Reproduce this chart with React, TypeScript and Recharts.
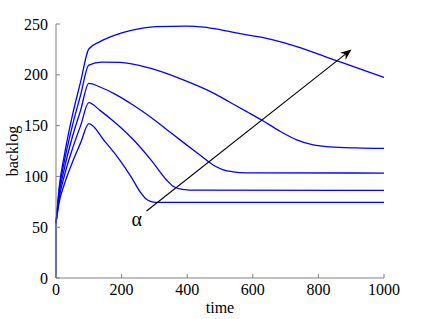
import React from 'react';
import { LineChart, Line, XAxis, YAxis, ReferenceLine, ReferenceDot } from 'recharts';

const edge = [{ t: 0, v: 0 }, { t: 0, v: 54 }];
const curve1 = [
  { t: 0, v: 54 }, { t: 10, v: 75 }, { t: 25, v: 92 }, { t: 50, v: 114 }, { t: 75, v: 133 },
  { t: 100, v: 152 }, { t: 150, v: 134 }, { t: 190, v: 118 }, { t: 230, v: 99 }, { t: 256, v: 85 },
  { t: 272, v: 78.5 }, { t: 288, v: 75.5 }, { t: 305, v: 74.5 }, { t: 1000, v: 74.5 },
];
const curve2 = [
  { t: 0, v: 54 }, { t: 10, v: 79 }, { t: 25, v: 100 }, { t: 50, v: 127 }, { t: 75, v: 150 },
  { t: 100, v: 172.6 }, { t: 134, v: 165 }, { t: 180, v: 153 }, { t: 236, v: 136 }, { t: 290, v: 116 },
  { t: 337, v: 96.5 }, { t: 358, v: 90 }, { t: 385, v: 87.3 }, { t: 430, v: 86.4 }, { t: 1000, v: 86.3 },
];
const curve3 = [
  { t: 0, v: 54 }, { t: 10, v: 83 }, { t: 25, v: 107 }, { t: 50, v: 139 }, { t: 75, v: 165 },
  { t: 100, v: 191.6 }, { t: 134, v: 188 }, { t: 180, v: 181 }, { t: 236, v: 170 }, { t: 290, v: 158 },
  { t: 338, v: 146 }, { t: 390, v: 133 }, { t: 439, v: 121 }, { t: 480, v: 111 }, { t: 510, v: 106.5 },
  { t: 540, v: 104.5 }, { t: 580, v: 103.5 }, { t: 1000, v: 103.3 },
];
const curve4 = [
  { t: 0, v: 54 }, { t: 10, v: 87 }, { t: 25, v: 114 }, { t: 50, v: 150 }, { t: 75, v: 180 },
  { t: 100, v: 209.6 }, { t: 140, v: 212.5 }, { t: 195, v: 212.3 }, { t: 287, v: 206.5 }, { t: 388, v: 195 },
  { t: 480, v: 182 }, { t: 530, v: 173 }, { t: 580, v: 164 }, { t: 627, v: 155.5 }, { t: 680, v: 145 },
  { t: 734, v: 136 }, { t: 784, v: 131 }, { t: 835, v: 129 }, { t: 917, v: 128 }, { t: 1000, v: 127.5 },
];
const curve5 = [
  { t: 0, v: 54 }, { t: 10, v: 90 }, { t: 25, v: 120 }, { t: 50, v: 160 }, { t: 75, v: 193 },
  { t: 100, v: 225.4 }, { t: 134, v: 232.6 }, { t: 180, v: 239 }, { t: 226, v: 243.4 }, { t: 307, v: 247.4 },
  { t: 398, v: 248 }, { t: 450, v: 247 }, { t: 500, v: 244.5 }, { t: 561, v: 240.5 }, { t: 632, v: 236.5 },
  { t: 734, v: 227.7 }, { t: 835, v: 216.2 }, { t: 937, v: 204.7 }, { t: 1000, v: 197.5 },
];
const curves = [curve1, curve2, curve3, curve4, curve5];

const xTicks = [0, 200, 400, 600, 800, 1000];
const yTicks = [0, 50, 100, 150, 200, 250];

const arrowStart = { t: 276, v: 66 };
const arrowEnd = { t: 901, v: 225 };
const alphaPos = { t: 246, v: 58 };

const FONT = '"Liberation Serif", "Times New Roman", Times, serif';
const AXIS = '#808080';
const txt = { fontFamily: FONT };
const FS = 16;

const Arrow = (p: any) => {
  const { x1, y1, x2, y2 } = p;
  const ang = Math.atan2(y2 - y1, x2 - x1);
  const L = 11, W = 4.5;
  const bx = x2 - L * Math.cos(ang), by = y2 - L * Math.sin(ang);
  const nx = x2 - L * 0.7 * Math.cos(ang), ny = y2 - L * 0.7 * Math.sin(ang);
  const px = -Math.sin(ang) * W, py = Math.cos(ang) * W;
  return (
    <g>
      <line x1={x1} y1={y1} x2={nx} y2={ny} stroke="#000" strokeWidth={1.1} />
      <polygon points={`${x2},${y2} ${bx + px},${by + py} ${nx},${ny} ${bx - px},${by - py}`} fill="#000" />
    </g>
  );
};

export default function App() {
  return (
    <div style={{ position: 'absolute', left: 0, top: 0, background: '#fff', fontFamily: FONT }}>
      <LineChart width={424} height={319} margin={{ top: 24, right: 40, left: 0, bottom: 0 }} style={txt}>
        <XAxis
          xAxisId={0}
          dataKey="t"
          type="number"
          domain={[0, 1000]}
          ticks={xTicks}
          allowDuplicatedCategory={false}
          height={41}
          stroke={AXIS}
          tickSize={-4}
          tickMargin={10}
          tick={{ fill: '#000', fontSize: FS, fontFamily: FONT, style: txt }}
          label={{ value: 'time', position: 'insideBottom', offset: 6, fill: '#000', fontSize: FS, fontFamily: FONT, style: txt }}
        />
        <XAxis
          xAxisId="top"
          orientation="top"
          dataKey="t"
          type="number"
          domain={[0, 1000]}
          ticks={xTicks}
          height={0}
          stroke={AXIS}
          mirror
          tickSize={4}
          tick={false}
        />
        <YAxis
          yAxisId={0}
          type="number"
          domain={[0, 250]}
          ticks={yTicks}
          width={56}
          stroke={AXIS}
          tickSize={-4}
          tickMargin={12}
          tick={{ fill: '#000', fontSize: FS, fontFamily: FONT, style: txt }}
          label={{
            content: (p: any) => {
              const vb = p.viewBox || {};
              const cx = vb.x + 12;
              const cy = vb.y + vb.height / 2;
              return (
                <text x={cx} y={cy} transform={`rotate(-90 ${cx} ${cy})`} textAnchor="middle" dominantBaseline="central" fill="#000" fontSize={FS} style={txt}>
                  backlog
                </text>
              );
            },
          }}
        />
        <YAxis
          yAxisId="right"
          orientation="right"
          type="number"
          domain={[0, 250]}
          ticks={yTicks}
          width={0}
          stroke={AXIS}
          mirror
          tickSize={4}
          tick={false}
        />
        <Line
          data={edge}
          dataKey="v"
          xAxisId={0}
          yAxisId={0}
          type="linear"
          stroke="#0000ff"
          strokeWidth={1.3}
          dot={false}
          isAnimationActive={false}
        />
        {curves.map((c, i) => (
          <Line
            key={i}
            data={c}
            dataKey="v"
            xAxisId={0}
            yAxisId={0}
            type="monotone"
            stroke="#0000ff"
            strokeWidth={1.3}
            dot={false}
            isAnimationActive={false}
          />
        ))}
        <ReferenceLine
          xAxisId={0}
          yAxisId={0}
          segment={[{ x: arrowStart.t, y: arrowStart.v }, { x: arrowEnd.t, y: arrowEnd.v }]}
          stroke="#000"
          shape={Arrow}
          ifOverflow="visible"
        />
        <ReferenceDot
          xAxisId={0}
          yAxisId={0}
          x={alphaPos.t}
          y={alphaPos.v}
          r={0}
          ifOverflow="visible"
          shape={(p: any) => (
            <text x={p.cx} y={p.cy} textAnchor="middle" dominantBaseline="central" fill="#000" fontSize={20} style={txt}>
              α
            </text>
          )}
        />
      </LineChart>
    </div>
  );
}
